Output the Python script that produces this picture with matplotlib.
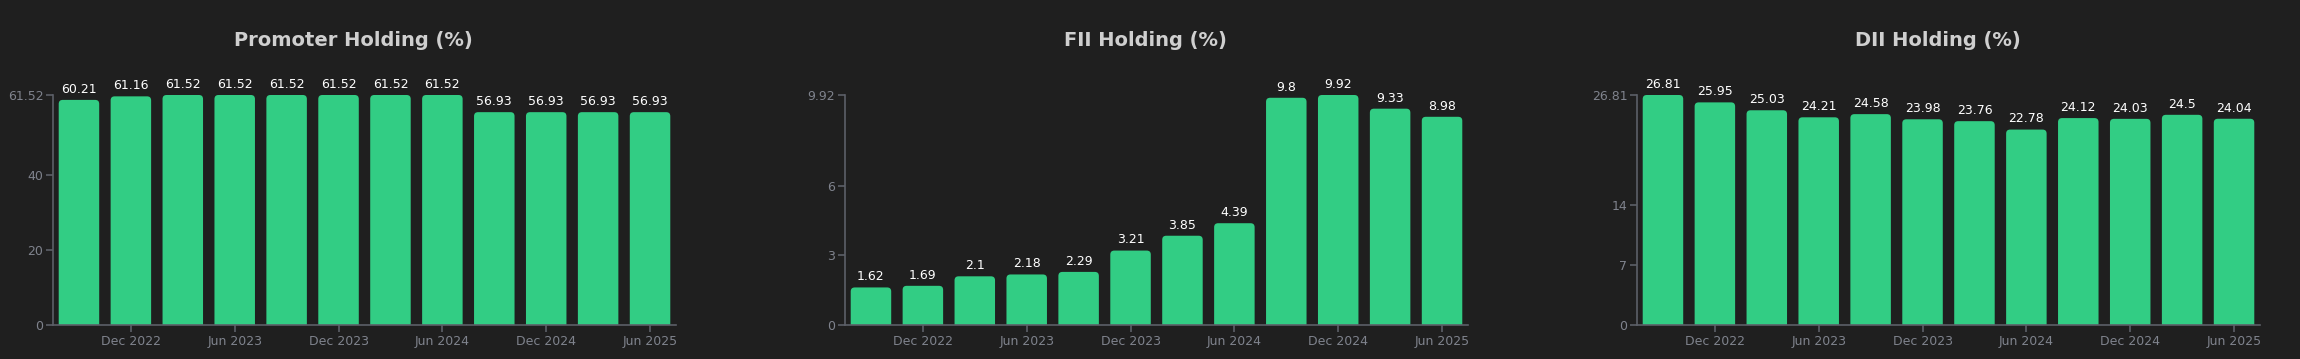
import matplotlib
matplotlib.use("Agg")
import matplotlib.pyplot as plt
from matplotlib.patches import FancyBboxPatch

quarters = ["Sep 2022", "Dec 2022", "Mar 2023", "Jun 2023", "Sep 2023", "Dec 2023",
            "Mar 2024", "Jun 2024", "Sep 2024", "Dec 2024", "Mar 2025", "Jun 2025"]
promoter = [60.21, 61.16, 61.52, 61.52, 61.52, 61.52, 61.52, 61.52, 56.93, 56.93, 56.93, 56.93]
fii = [1.62, 1.69, 2.1, 2.18, 2.29, 3.21, 3.85, 4.39, 9.8, 9.92, 9.33, 8.98]
dii = [26.81, 25.95, 25.03, 24.21, 24.58, 23.98, 23.76, 22.78, 24.12, 24.03, 24.5, 24.04]

titles = ["Promoter Holding (%)", "FII Holding (%)", "DII Holding (%)"]
yticks = [[0, 20, 40, 61.52], [0, 3, 6, 9.92], [0, 7, 14, 26.81]]
ytick_labels = [["0", "20", "40", "61.52"], ["0", "3", "6", "9.92"], ["0", "7", "14", "26.81"]]

bg = "#1f1f1f"
bar_color = "#32cd84"
axis_color = "#5c5f68"
tick_text = "#7f838d"

W, H = 2300, 359
fig = plt.figure(figsize=(W / 100, H / 100), dpi=100, facecolor=bg)
lefts = [53, 845, 1637]
ax_w = 623
ax_bottom = 1 - 325 / H
ax_h = (325 - 95) / H

for i, vals in enumerate([promoter, fii, dii]):
    ax = fig.add_axes([lefts[i] / W, ax_bottom, ax_w / W, ax_h])
    ax.set_facecolor(bg)
    x = list(range(len(quarters)))
    ymax = max(vals)
    bars = ax.bar(x, vals, width=0.78, color=bar_color, linewidth=0)
    ax.set_xlim(-0.5, len(quarters) - 0.5)
    ax.set_ylim(0, ymax)

    # rounded tops: rounded box reaching below the axis, clipped at y=0
    px_x = ax_w / len(quarters)
    px_y = (325 - 95) / ymax
    r = 4 / px_x
    aspect = px_x / px_y
    for b in bars:
        bx, by = b.get_xy()
        bw, bh = b.get_width(), b.get_height()
        ext = r * aspect * 1.5
        rp = FancyBboxPatch((bx, by - ext), bw, bh + ext,
                            boxstyle="round,pad=0,rounding_size=%f" % r,
                            mutation_aspect=aspect,
                            facecolor=bar_color, linewidth=0)
        ax.add_patch(rp)
        b.set_visible(False)
        ax.annotate(f"{bh:g}", (bx + bw / 2, bh), xytext=(0, 3),
                    textcoords="offset points", ha="center", va="bottom",
                    color="white", fontsize=9)

    for s in ["top", "right"]:
        ax.spines[s].set_visible(False)
    for s in ["left", "bottom"]:
        ax.spines[s].set_color(axis_color)
        ax.spines[s].set_linewidth(1.2)
        ax.spines[s].set_zorder(5)

    ax.set_yticks(yticks[i])
    ax.set_yticklabels(ytick_labels[i])
    ax.set_xticks(x[1::2])
    ax.set_xticklabels(quarters[1::2])
    ax.tick_params(colors=axis_color, labelcolor=tick_text, labelsize=9,
                   length=5, width=1.2, pad=2)
    fig.text((lefts[i] + ax_w / 2 - 11) / W, 1 - 40 / H, titles[i],
             ha="center", va="center", color="#cfcfcf",
             fontsize=14, fontweight="bold")

fig.savefig("out.png", dpi=100, facecolor=bg)
